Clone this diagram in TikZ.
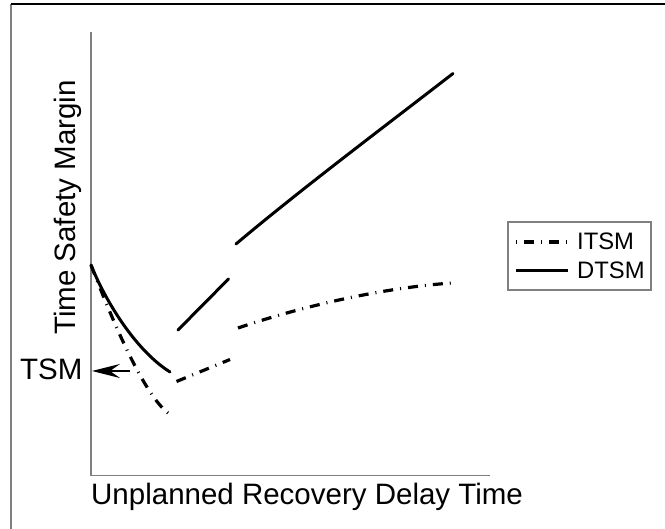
\documentclass[tikz,border=0pt]{standalone}
\usepackage{fontspec}
\setmainfont{Liberation Sans}
\usetikzlibrary{arrows.meta}
\tikzset{
  axis/.style={draw=gray, line width=1.5pt},
  dtsm/.style={line width=3pt, line cap=round},
  itsm/.style={line width=3.2pt, dash pattern=on 10pt off 7pt on 1pt off 7pt},
  lbl/.style={font=\fontsize{29.5}{34}\selectfont, inner sep=0pt},
  keylbl/.style={font=\fontsize{23.8}{28}\selectfont, inner sep=0pt, anchor=base west}
}

\begin{document}
\begin{tikzpicture}[x=1pt,y=-1pt]
  \useasboundingbox (0,0) rectangle (665,529);
  \draw[gray, line width=1.5pt] (11,529) -- (11,4);
  \draw[line width=1.5pt] (11,4) -- (665,4);

  \draw[axis] (91,32) -- (91,475.5) -- (490,475.5);
  \node[lbl, rotate=90, anchor=base] (ylabel) at (75.5,207.5) {Time Safety Margin};
  \node[lbl, anchor=base west] (xlabel) at (91,505) {Unplanned Recovery Delay Time};

  \node[lbl, anchor=base west] (tsm) at (20,380) {TSM};
  \coordinate (tsm tail) at (130,371);
  \coordinate (tsm tip) at (92,371);
  \draw[-{Stealth[length=28pt,width=14pt,inset=10pt]}, line width=1.5pt]
        (tsm tail) -- (tsm tip);

  % DTSM
  \draw[dtsm] (91,265) .. controls (105,300) and (135,350) .. (170,372);
  \draw[dtsm] (178,330) -- (228.5,279);
  \draw[dtsm] (236,244) .. controls (300,190) and (380,130) .. (453,73.5);

  % ITSM
  \draw[itsm] (91,265) .. controls (116,330) and (145,395) .. (168,413);
  \draw[itsm] (176.5,381.5) -- (230,359.5);
  \draw[itsm] (238,328) .. controls (300,307) and (380,288) .. (452,283);

  % key
  \draw[gray, line width=1.2pt] (508,222) rectangle (651,290);
  \draw[itsm, dash phase=17pt] (516,242) -- (568,242);
  \node[keylbl] (itsm key) at (577,250) {ITSM};
  \draw[dtsm, line cap=butt] (516,271) -- (568,271);
  \node[keylbl] (dtsm key) at (577,279) {DTSM};
\end{tikzpicture}
\end{document}
